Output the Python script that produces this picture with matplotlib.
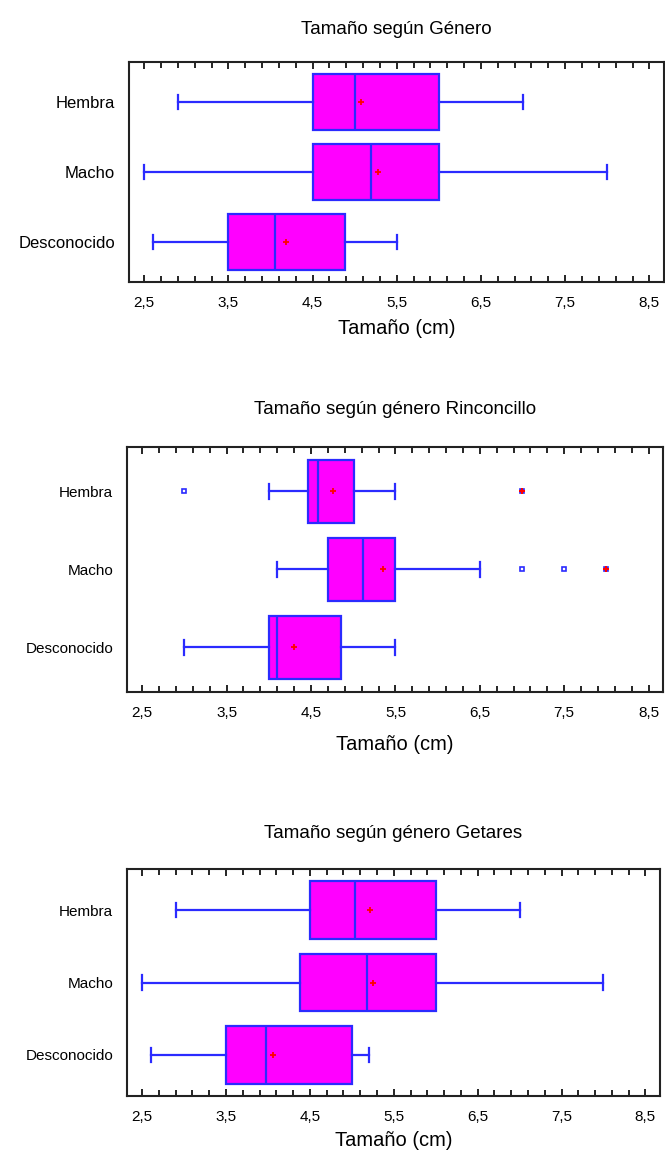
import matplotlib
matplotlib.use("Agg")
import matplotlib.pyplot as plt
from matplotlib.ticker import MultipleLocator, FixedLocator

plt.rcParams['font.family'] = ['Liberation Sans Narrow', 'Liberation Sans', 'DejaVu Sans']

categories = ['Hembra', 'Macho', 'Desconocido']
xticks = [2.5, 3.5, 4.5, 5.5, 6.5, 7.5, 8.5]
xticklabels = ['2,5', '3,5', '4,5', '5,5', '6,5', '7,5', '8,5']

titles = ['Tamaño según Género',
          'Tamaño según género Rinconcillo',
          'Tamaño según género Getares']

# whisker low, q1, median, q3, whisker high, mean  (Hembra, Macho, Desconocido)
genero = [
    [2.9, 4.5, 5.0, 6.0, 7.0, 5.08],
    [2.5, 4.5, 5.19, 6.0, 8.0, 5.28],
    [2.6, 3.5, 4.05, 4.89, 5.5, 4.18],
]
rinconcillo = [
    [4.0, 4.46, 4.58, 5.01, 5.5, 4.76],
    [4.1, 4.7, 5.12, 5.5, 6.5, 5.35],
    [3.0, 4.0, 4.1, 4.86, 5.5, 4.3],
]
getares = [
    [2.9, 4.5, 5.04, 6.0, 7.0, 5.22],
    [2.5, 4.38, 5.18, 6.0, 8.0, 5.25],
    [2.6, 3.5, 3.98, 5.0, 5.2, 4.06],
]

# outliers (blue squares) and far outliers (red plus) for Rinconcillo
rinc_outliers = [[3.0, 7.0], [7.0, 7.5, 8.0], []]
rinc_far = [[7.0], [8.0], []]

datasets = [genero, rinconcillo, getares]
outliers = [[[], [], []], rinc_outliers, [[], [], []]]
far = [[[], [], []], rinc_far, [[], [], []]]

positions = [3, 2, 1]
blue = '#2b2bff'
magenta = '#ff00ff'

fig = plt.figure(figsize=(6.65, 11.55), dpi=100)
axes_rects = [
    [0.194, 0.7558, 0.804, 0.1905],
    [0.191, 0.4009, 0.806, 0.2121],
    [0.191, 0.0511, 0.801, 0.1965],
]
title_y = [30, 410, 833]
xlabel_y = [328, 745, 1140]

for i, data in enumerate(datasets):
    ax = fig.add_axes(axes_rects[i])
    stats = []
    for j, row in enumerate(data):
        stats.append(dict(whislo=row[0], q1=row[1], med=row[2], q3=row[3],
                          whishi=row[4], mean=row[5], fliers=outliers[i][j]))
    ax.bxp(stats, positions=positions, widths=0.8, orientation='horizontal',
           patch_artist=True, showmeans=True, capwidths=0.2,
           boxprops=dict(facecolor=magenta, edgecolor=blue, linewidth=1.6),
           medianprops=dict(color=blue, linewidth=1.6),
           whiskerprops=dict(color=blue, linewidth=1.6),
           capprops=dict(color=blue, linewidth=1.6),
           meanprops=dict(marker='+', markeredgecolor='red', markersize=5,
                          markeredgewidth=1.3),
           flierprops=dict(marker='s', markerfacecolor='white',
                           markeredgecolor=blue, markersize=3.5,
                           markeredgewidth=1.2))
    for j, vals in enumerate(far[i]):
        if vals:
            ax.plot(vals, [positions[j]] * len(vals), linestyle='none',
                    marker='+', color='red', markersize=5, markeredgewidth=1.5)

    ax.set_xlim(2.32, 8.67)
    ax.set_ylim(0.43, 3.57)
    ax.xaxis.set_major_locator(FixedLocator(xticks))
    ax.set_xticklabels(xticklabels)
    ax.xaxis.set_minor_locator(MultipleLocator(0.2, offset=0.1))
    ax.set_yticks(positions)
    ax.set_yticklabels(categories)
    ax.tick_params(axis='x', which='both', direction='in', top=True,
                   bottom=True, width=1.2, labelsize=11, pad=10)
    ax.tick_params(axis='x', which='major', length=5)
    ax.tick_params(axis='x', which='minor', length=4)
    if i == 0:
        ax.tick_params(axis='y', length=0, pad=10, labelsize=12)
    else:
        ax.tick_params(axis='y', length=0, pad=10, labelsize=11)
    for s in ax.spines.values():
        s.set_linewidth(1.5)
        s.set_color('#222222')

    cx = axes_rects[i][0] + axes_rects[i][2] / 2
    fig.text(cx, 1 - title_y[i] / 1155, titles[i], ha='center', va='center',
             fontsize=13.5)
    fig.text(cx, 1 - xlabel_y[i] / 1155, 'Tamaño (cm)', ha='center',
             va='center', fontsize=14.5)

fig.savefig('out.png', dpi=100)
